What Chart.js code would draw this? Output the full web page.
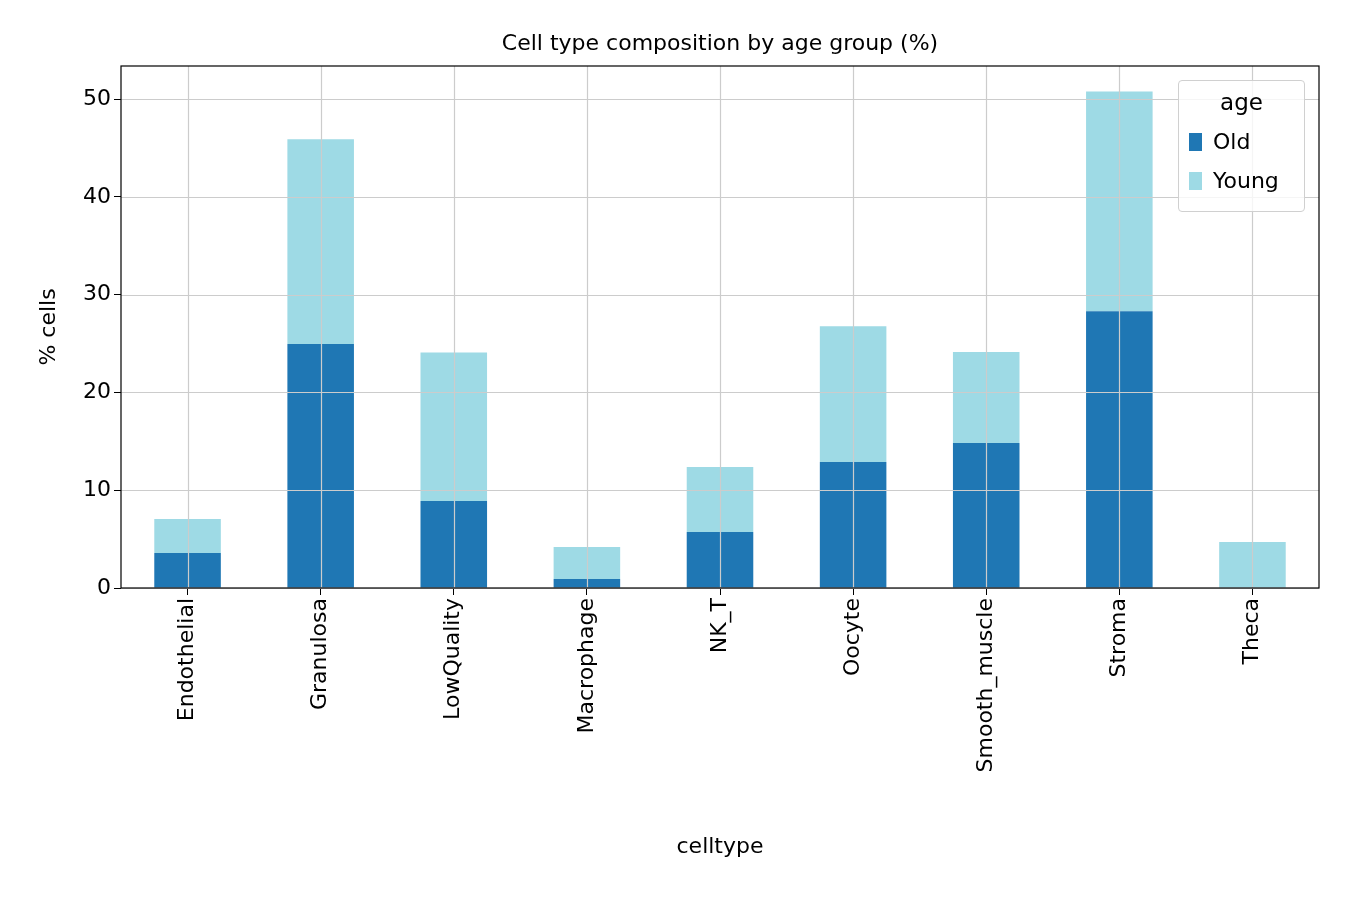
<!DOCTYPE html>
<html><head><meta charset="utf-8">
<script src="https://cdn.jsdelivr.net/npm/chart.js@4"></script>
<style>
body{margin:0;background:#fff;font-family:"DejaVu Sans",sans-serif;}
#wrap{position:relative;width:1350px;height:900px;}
#title{position:absolute;left:121px;width:1198px;top:30px;text-align:center;font-size:22px;color:#000;}
#legend{position:absolute;left:1178px;top:80px;width:125px;height:130px;border:1px solid #d0d0d0;border-radius:4px;background:rgba(255,255,255,0.8);font-size:22px;}
#legend .t{text-align:center;margin-top:8px;font-size:23px;}
#legend .r{display:flex;align-items:center;margin-left:10px;margin-top:14px;}
#legend .s{width:13px;height:18px;margin-right:11px;}
</style></head>
<body><div id="wrap"><canvas id="c" width="1350" height="900"></canvas>
<div id="title">Cell type composition by age group (%)</div>
<div id="legend"><div class="t">age</div>
<div class="r"><div class="s" style="background:#1f77b4"></div>Old</div>
<div class="r"><div class="s" style="background:#9edae5"></div>Young</div></div>
</div>
<script>
const categories=["Endothelial","Granulosa","LowQuality","Macrophage","NK_T","Oocyte","Smooth_muscle","Stroma","Theca"];
const oldVals=[3.58,24.95,8.9,0.92,5.73,12.88,14.83,28.3,0];
const youngVals=[3.48,20.95,15.2,3.27,6.64,13.9,9.3,22.5,4.7];
const yTicks=[0,10,20,30,40,50];
const frame={id:'frame',afterDatasetsDraw(c){const a=c.chartArea,x=c.ctx,xs=c.scales.x,ys=c.scales.y;x.save();
x.strokeStyle='#cccccc';x.lineWidth=1.2;x.beginPath();
categories.forEach((_,i)=>{const p=Math.round(xs.getPixelForValue(i))+0.5;x.moveTo(p,a.top);x.lineTo(p,a.bottom);});
yTicks.forEach(v=>{const p=Math.round(ys.getPixelForValue(v))+0.5;x.moveTo(a.left,p);x.lineTo(a.right,p);});
x.stroke();
x.strokeStyle='#000';x.lineWidth=1.2;x.strokeRect(a.left,a.top,a.right-a.left,a.bottom-a.top);x.restore();}};
const f={family:'DejaVu Sans',size:22};
new Chart(document.getElementById('c'),{type:'bar',
data:{labels:categories,datasets:[
{label:'Old',data:oldVals,backgroundColor:'#1f77b4'},
{label:'Young',data:youngVals,backgroundColor:'#9edae5'}]},
options:{responsive:false,animation:false,
layout:{padding:{left:32,right:31,top:66,bottom:36}},
plugins:{legend:{display:false},title:{display:false},tooltip:{enabled:false}},
datasets:{bar:{barPercentage:0.5,categoryPercentage:1}},
scales:{
x:{stacked:true,grid:{offset:false,drawOnChartArea:false,tickLength:7,tickColor:'#000'},border:{display:false},
ticks:{font:f,color:'#000',maxRotation:90,minRotation:90},
title:{display:true,text:'celltype',font:f,color:'#000'},
afterFit(s){s.height=276;}},
y:{stacked:true,min:0,max:53.4,grid:{drawOnChartArea:false,tickLength:7,tickColor:'#000'},border:{display:false},
afterBuildTicks(s){s.ticks=yTicks.map(v=>({value:v}));},
ticks:{font:f,color:'#000'},
title:{display:true,text:'% cells',font:f,color:'#000'},
afterFit(s){s.width=89;}}
}},plugins:[frame]});
</script></body></html>
